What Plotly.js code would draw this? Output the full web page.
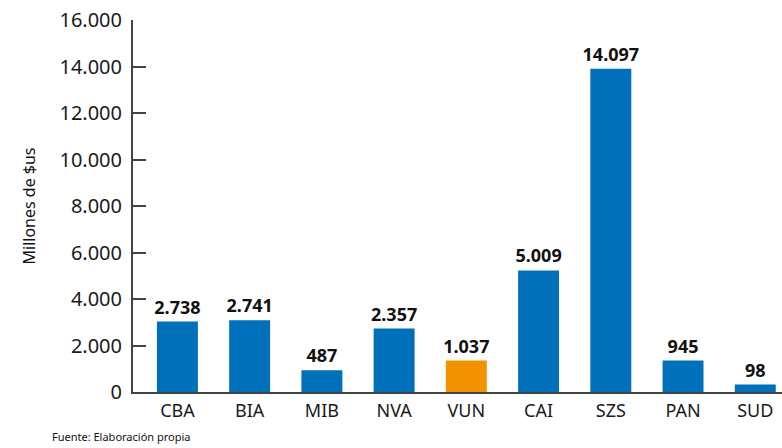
<!DOCTYPE html>
<html><head><meta charset="utf-8">
<script src="https://cdn.plot.ly/plotly-3.0.1.min.js"></script>
<style>html,body{margin:0;padding:0;background:#fff}#chart{width:782px;height:448px}</style>
</head><body><div id="chart"></div>
<script>
const categories = ["CBA","BIA","MIB","NVA","VUN","CAI","SZS","PAN","SUD"];
// bar heights as drawn in the picture
const barHeights = [3030, 3085, 940, 2730, 1350, 5230, 13900, 1350, 320];
// value labels as printed above each bar
const valueLabels = ["2.738","2.741","487","2.357","1.037","5.009","14.097","945","98"];
const barColors = ["#0070BA","#0070BA","#0070BA","#0070BA","#F39200","#0070BA","#0070BA","#0070BA","#0070BA"];
const yTicks = [0,2000,4000,6000,8000,10000,12000,14000,16000];

const font = "Noto Sans, Open Sans, sans-serif";
Plotly.newPlot("chart", [{
  type: "bar",
  x: categories,
  y: barHeights,
  text: valueLabels,
  textposition: "outside",
  constraintext: "none",
  cliponaxis: false,
  textfont: {family: font, size: 18, color: "#111", weight: "bold"},
  marker: {color: barColors},
  hoverinfo: "none"
}], {
  width: 782, height: 448,
  margin: {l: 133, r: 0, t: 20, b: 55.5},
  paper_bgcolor: "#fff", plot_bgcolor: "#fff",
  separators: ",.",
  bargap: 0.433,
  showlegend: false,
  xaxis: {
    range: [-0.615, 8.37],
    showline: true, linecolor: "#444", linewidth: 2,
    ticks: "", showgrid: false,
    tickfont: {family: font, size: 18, color: "#1a1a1a"},
    ticklabelstandoff: 1
  },
  yaxis: {
    range: [0, 16000],
    tickvals: yTicks,
    tickformat: ",d",
    showline: true, linecolor: "#444", linewidth: 2,
    ticks: "inside", ticklen: 13, tickwidth: 2, tickcolor: "#444",
    showgrid: false, zeroline: false,
    tickfont: {family: font, size: 20, color: "#1a1a1a"},
    ticklabelstandoff: 5,
    title: {text: "Millones de $us", font: {family: font, size: 16, color: "#111"}, standoff: 20}
  },
  annotations: [{
    text: "Fuente: Elaboración propia", xref: "paper", yref: "paper",
    x: -133/649 + 50/649, y: -45/372.5, xanchor: "left", yanchor: "middle",
    showarrow: false, font: {family: font, size: 11, color: "#111"}
  }]
}, {displayModeBar: false, staticPlot: true});
</script></body></html>
